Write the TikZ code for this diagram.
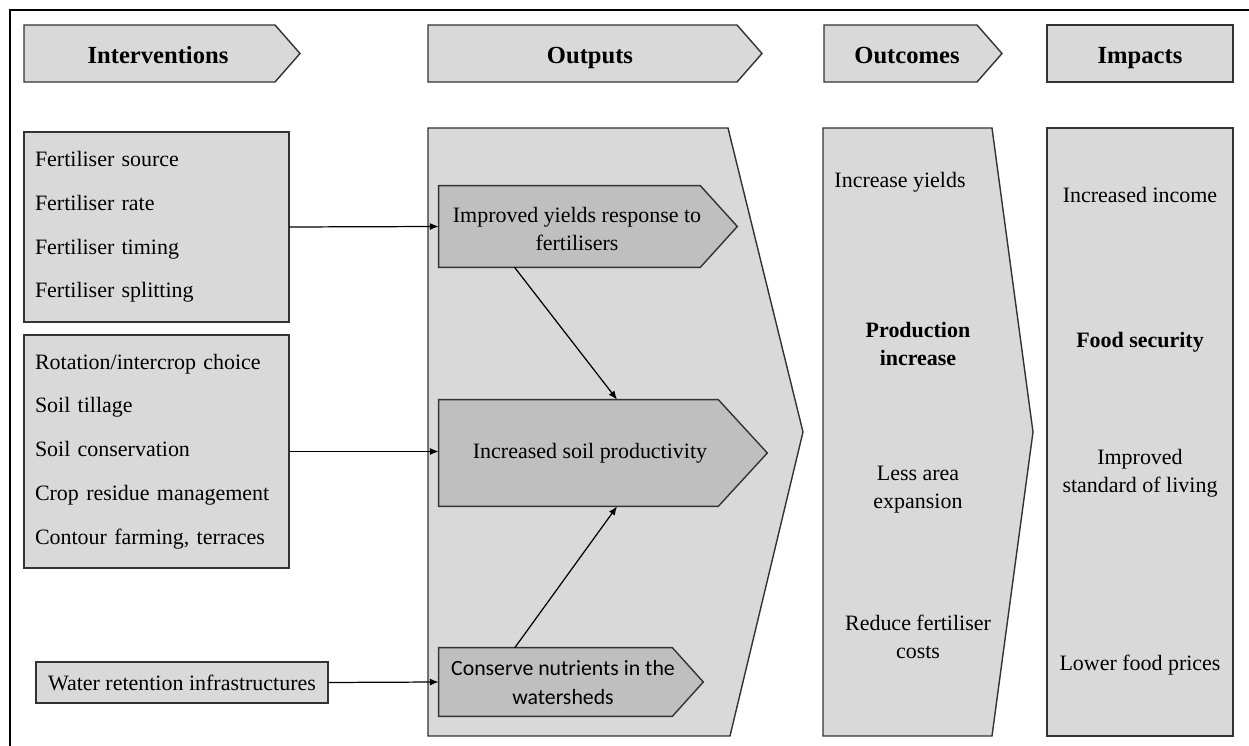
\documentclass[tikz,border=0pt]{standalone}
\usepackage{fontspec}
\setmainfont{Liberation Serif}
\newfontfamily\tnrfont{Liberation Serif}
\newfontfamily\calibrifont{Carlito}
\usetikzlibrary{arrows.meta,calc}
\definecolor{lightg}{HTML}{D9D9D9}
\definecolor{darkg}{HTML}{BFBFBF}
\definecolor{edge}{HTML}{333333}
\begin{document}
\begin{tikzpicture}[x=0.02cm,y=-0.02cm,
  every node/.style={font=\tnrfont\fontsize{12.5}{16}\selectfont, inner sep=0pt},
  shp/.style={draw=edge, fill=lightg, line width=0.8pt},
  inshp/.style={draw=edge, fill=darkg, line width=0.8pt},
  hdr/.style={font=\tnrfont\bfseries\fontsize{14}{16}\selectfont, anchor=base},
  bld/.style={font=\tnrfont\bfseries\fontsize{12.5}{16}\selectfont},
  inbox/.style={draw=edge, fill=lightg, line width=0.8pt, align=left, inner xsep=0.22cm,
     text width=4.86cm, minimum height=#1, font=\tnrfont\fontsize{12.5}{24.9}\selectfont},
  abox/.style={draw=none, minimum width=#1},
  conn/.style={line width=0.7pt, draw=black, -{Latex[length=5pt,width=4pt]}}
]
\useasboundingbox (0,0) rectangle (1249,746);
% frame
\draw[line width=0.8pt] (1249,10) -- (10,10) -- (10,746);

% headers
\draw[shp] (24,25) -- (275,25) -- (300,53.5) -- (275,82) -- (24,82) -- cycle;
\node[hdr] (hInt) at (158,63.5) {Interventions};
\draw[shp] (428,25) -- (737,25) -- (762,53.5) -- (737,82) -- (428,82) -- cycle;
\node[hdr] (hOut) at (590,63.5) {Outputs};
\draw[shp] (824,25) -- (977,25) -- (1002,53.5) -- (977,82) -- (824,82) -- cycle;
\node[hdr] (hOc) at (907,63.5) {Outcomes};
\draw[shp] (1047,25) rectangle (1233,82);
\node[hdr] (hImp) at (1140,63.5) {Impacts};

% interventions
\node[inbox=3.8cm] (in1) at (156.5,227) {Fertiliser source\\Fertiliser rate\\Fertiliser timing\\Fertiliser splitting};
\node[inbox=4.66cm] (in2) at (156.5,451.5) {Rotation/intercrop choice\\Soil tillage\\Soil conservation\\Crop residue management\\Contour farming, terraces};
\node[draw=edge, fill=lightg, line width=0.8pt, minimum width=5.84cm, minimum height=0.82cm] (in3) at (182,682.5) {Water retention infrastructures};

% outputs big shape
\draw[shp] (428,128) -- (728,128) -- (803,432) -- (730,736) -- (428,736) -- cycle;
% outcomes shape
\draw[shp] (823,128) -- (992,128) -- (1033,432) -- (992,736) -- (823,736) -- cycle;
% impacts box
\draw[shp] (1047,128) rectangle (1233,736);

% output inner boxes
\node[abox=5.22cm, minimum height=1.62cm] (o1) at (569.5,226.5) {};
\draw[inshp] (o1.north west) -- (o1.north east) -- ($(o1.east)+(37,0)$) -- (o1.south east) -- (o1.south west) -- cycle;
\node[align=center] (t1) at (577,229) {Improved yields response to\\fertilisers};

\node[abox=5.58cm, minimum height=2.12cm] (o2) at (578.5,453) {};
\draw[inshp] (o2.north west) -- (o2.north east) -- ($(o2.east)+(49,0)$) -- (o2.south east) -- (o2.south west) -- cycle;
\node (t2) at (590,453) {Increased soil productivity};

\node[abox=4.66cm, minimum height=1.36cm] (o3) at (555.5,682) {};
\draw[inshp] (o3.north west) -- (o3.north east) -- ($(o3.east)+(31,0)$) -- (o3.south east) -- (o3.south west) -- cycle;
\node[align=center, font=\calibrifont\fontsize{12.4}{16.4}\selectfont] (t3) at (563,682.5) {Conserve nutrients in the\\watersheds};

% connectors
\draw[conn] (in1.east) -- (o1.west);
\draw[conn] (in2.east) -- (o2.west |- in2.east);
\draw[conn] (in3.east) -- (o3.west);
\draw[conn] ($(o1.south west)!0.29!(o1.south east)$) -- ($(o2.north west)!0.638!(o2.north east)$);
\draw[conn] ($(o3.north west)!0.326!(o3.north east)$) -- ($(o2.south west)!0.638!(o2.south east)$);

% outcomes texts
\node (oc1) at (900,182) {Increase yields};
\node[align=center, bld] (oc2) at (918,344) {Production\\increase};
\node[align=center] (oc3) at (918,490) {Less area\\expansion};
\node[align=center] (oc4) at (918,637) {Reduce fertiliser\\costs};

% impacts texts
\node (im1) at (1140,195) {Increased income};
\node[bld] (im2) at (1140,342) {Food security};
\node[align=center] (im3) at (1140,473) {Improved\\standard of living};
\node (im4) at (1140,665) {Lower food prices};
\end{tikzpicture}
\end{document}
